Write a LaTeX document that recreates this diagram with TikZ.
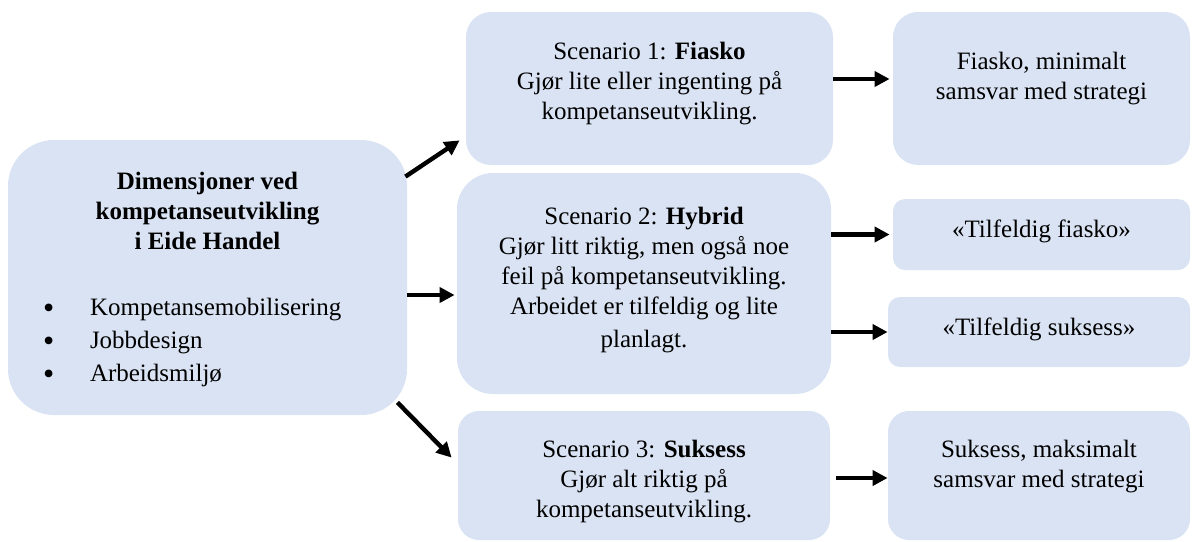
\documentclass[tikz,border=0pt]{standalone}
\usepackage{fontspec}
\setmainfont{Liberation Serif}
\usetikzlibrary{positioning,arrows.meta}
\definecolor{boxblue}{HTML}{DAE3F3}
\newcommand{\punkt}{\makebox[23.5pt][l]{\smash{\fontsize{16}{16}\selectfont\raisebox{-1.6pt}{\textbullet}}}}

\begin{document}
\begin{tikzpicture}[x=0.5pt, y=-0.5pt,
    box/.style={fill=boxblue, draw=none, inner sep=0pt},
    txt/.style={align=center, inner sep=0pt, font=\fontsize{12.5}{15}\selectfont},
    txtb/.style={txt, font=\fontsize{12.5}{15}\selectfont\bfseries},
    pil/.style={-{Triangle[length=7.5pt,width=7.5pt]}, line width=2.2pt}]
    \useasboundingbox (0,0) rectangle (1193,541);

    % Boksene
    \node[box, minimum width=199.5pt, minimum height=137.5pt, rounded corners=23pt] (dim) at (207.5,277.5) {};
    \node[box, minimum width=183.5pt, minimum height=76.5pt, rounded corners=12.5pt] (s1) at (649.5,88.5) {};
    \node[box, minimum width=187pt, minimum height=110.5pt, rounded corners=18pt] (s2) at (644,283.5) {};
    \node[box, minimum width=186pt, minimum height=64.5pt, rounded corners=10.5pt] (s3) at (644,475.5) {};
    \node[box, minimum width=148.5pt, minimum height=76.5pt, rounded corners=12.5pt] (r1) at (1041.5,88.5) {};
    \node[box, minimum width=148.5pt, minimum height=35.5pt, rounded corners=6pt] (r2) at (1041.5,234.5) {};
    \node[box, minimum width=151pt, minimum height=35pt, rounded corners=6pt] (r3) at (1039,332) {};
    \node[box, minimum width=151pt, minimum height=64.5pt, rounded corners=10.5pt] (r4) at (1039,475.5) {};

    % Tekst
    \node[txtb, below=16pt of dim.north] (dimtitle) {Dimensjoner ved\\kompetanseutvikling\\i Eide Handel};
    \node[txt, align=left, anchor=north west, font=\fontsize{12.5}{16.5}\selectfont]
        (dimlist) at ([xshift=17.5pt,yshift=-79pt]dim.north west)
        {\punkt Kompetansemobilisering\\
         \punkt Jobbdesign\\
         \punkt Arbeidsmiljø};
    \node[txt, below=15pt of s1.north] (s1txt) {Scenario 1: \textbf{Fiasko}\\Gjør lite eller ingenting på\\kompetanseutvikling.};
    \node[txt, below=17pt of s2.north] (s2txt) {Scenario 2: \textbf{Hybrid}\\Gjør litt riktig, men også noe\\feil på kompetanseutvikling.\\Arbeidet er tilfeldig og lite\\[1.5pt]planlagt.};
    \node[txt, below=14.5pt of s3.north] (s3txt) {Scenario 3: \textbf{Suksess}\\Gjør alt riktig på\\kompetanseutvikling.};
    \node[txt, below=20pt of r1.north] (r1txt) {Fiasko, minimalt\\samsvar med strategi};
    \node[txt, yshift=1.5pt] (r2txt) at (r2) {«Tilfeldig fiasko»};
    \node[txt, yshift=1.5pt] (r3txt) at (r3) {«Tilfeldig suksess»};
    \node[txt, below=14.5pt of r4.north] (r4txt) {Suksess, maksimalt\\samsvar med strategi};

    % Piler
    \coordinate (a2) at ([yshift=-8.75pt]dim.east);
    \draw[pil] ([xshift=-1pt,yshift=-18.5pt]dim.north east) -- ([xshift=-3pt,yshift=12.5pt]s1.south west);
    \draw[pil, shorten >=1pt] (a2) -- (a2 -| s2.west);
    \draw[pil] ([xshift=-5pt,yshift=6.5pt]dim.south east) -- ([xshift=-3pt,yshift=-23.5pt]s3.north west);
    \draw[pil, shorten >=1.5pt] ([yshift=4.75pt]s1.east) -- ([yshift=4.75pt]r1.west);
    \draw[pil, shorten >=1.5pt] (s2.east |- r2.west) -- (r2.west);
    \draw[pil] (s2.east |- r3.west) -- (r3.west);
    \draw[pil, shorten <=3pt] ([yshift=-1.25pt]s3.east) -- ([yshift=-1.25pt]r4.west);
\end{tikzpicture}
\end{document}
